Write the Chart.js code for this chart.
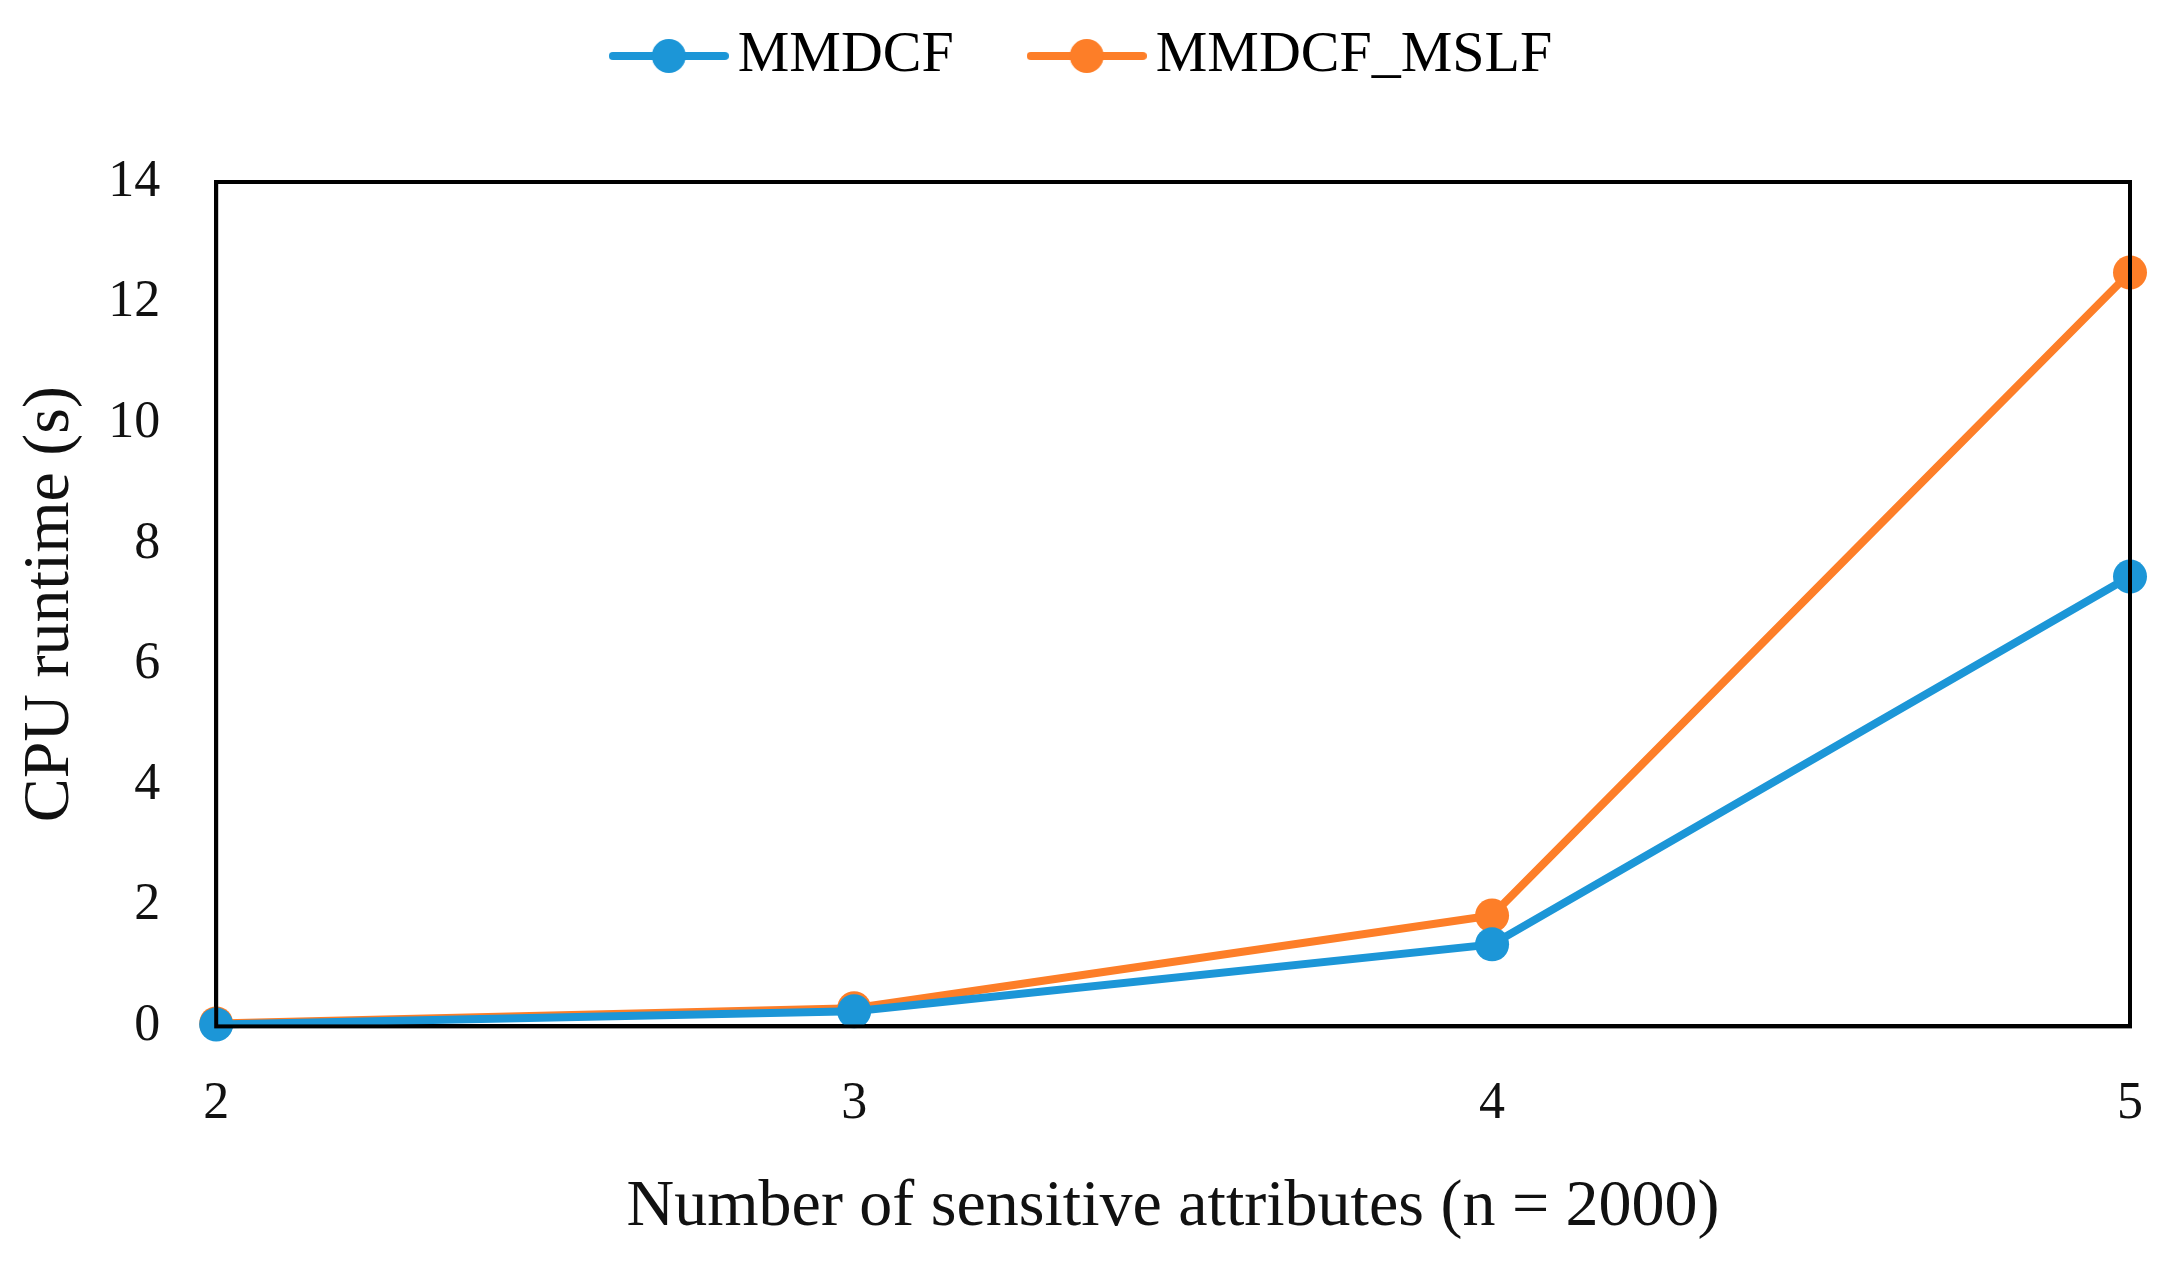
<!DOCTYPE html>
<html>
<head>
<meta charset="utf-8">
<script src="https://cdn.jsdelivr.net/npm/chart.js@4.4.1/dist/chart.umd.min.js"></script>
<style>
  html, body { margin: 0; padding: 0; background: #fff; }
  #wrap { width: 2179px; height: 1273px; }
</style>
</head>
<body>
<div id="wrap"><canvas id="myChart" width="2179" height="1273"></canvas></div>
<script>
// Dati
const attributes = [2, 3, 4, 5];
const mmdcf = [0.03, 0.25, 1.36, 7.46];
const mmdcfMslf = [0.05, 0.3, 1.84, 12.5];
const yTicks = [0, 2, 4, 6, 8, 10, 12, 14];

const BLUE = "#1c96d7";
const ORANGE = "#fd7e28";
const FONT = "'Liberation Serif', 'DejaVu Serif', serif";

// Icona legenda: linea con cerchio
const legendIcon = (color) => {
    const c = document.createElement('canvas');
    c.width = 120;
    c.height = 36;
    const ctx = c.getContext('2d');
    ctx.strokeStyle = color;
    ctx.lineWidth = 8;
    ctx.lineCap = 'round';
    ctx.beginPath();
    ctx.moveTo(4, 18);
    ctx.lineTo(116, 18);
    ctx.stroke();
    ctx.fillStyle = color;
    ctx.beginPath();
    ctx.arc(60, 18, 17, 0, Math.PI * 2);
    ctx.fill();
    return c;
};

// Spazio extra sotto la legenda e piccolo spostamento a destra
const legendGap = {
    id: 'legendGap',
    beforeInit(chart) {
        const fit = chart.legend.fit;
        chart.legend.fit = function () {
            fit.bind(chart.legend)();
            this.height += 87;
        };
    },
    afterLayout(chart) {
        chart.legend.left += 22;
        chart.legend.right += 22;
    }
};

// Cornice nera attorno all'area del grafico
const frame = {
    id: 'frame',
    afterDatasetsDraw(chart) {
        const { ctx, chartArea: a } = chart;
        ctx.save();
        ctx.strokeStyle = '#000';
        ctx.lineWidth = 4;
        ctx.strokeRect(a.left, a.top, a.right - a.left, a.bottom - a.top);
        ctx.restore();
    }
};

const makeData = (values) => attributes.map((x, i) => ({ x, y: values[i] }));

const dataset = (label, values, color) => ({
    label,
    data: makeData(values),
    borderColor: color,
    backgroundColor: color,
    borderWidth: 8,
    pointRadius: 17,
    pointHoverRadius: 17,
    pointBorderWidth: 0,
    pointStyle: 'circle',
    clip: false,
    fill: false,
    tension: 0,
});

new Chart("myChart", {
    type: "line",
    data: {
        datasets: [
            dataset("MMDCF", mmdcf, BLUE),
            dataset("MMDCF_MSLF", mmdcfMslf, ORANGE),
        ],
    },
    plugins: [legendGap, frame],
    options: {
        responsive: false,
        devicePixelRatio: 1,
        animation: false,
        layout: {
            padding: { left: 7, right: 49, top: -66, bottom: 22 }
        },
        plugins: {
            legend: {
                display: true,
                position: 'top',
                labels: {
                    usePointStyle: true,
                    pointStyleWidth: 80,
                    color: '#111',
                    font: { family: FONT, size: 58 },
                    padding: 93,
                    generateLabels: (chart) => chart.data.datasets.map((ds, i) => ({
                        text: ds.label,
                        pointStyle: legendIcon(ds.borderColor),
                        fillStyle: ds.borderColor,
                        strokeStyle: ds.borderColor,
                        lineWidth: 0,
                        hidden: false,
                        datasetIndex: i,
                    })),
                },
            },
            tooltip: { enabled: false },
        },
        scales: {
            x: {
                type: 'linear',
                min: 2,
                max: 5,
                grid: { display: false, drawTicks: false },
                border: { display: true, color: '#000', width: 4 },
                ticks: {
                    stepSize: 1,
                    padding: 47,
                    color: '#111',
                    font: { family: FONT, size: 52 },
                },
                afterBuildTicks: (axis) => {
                    axis.ticks = attributes.map(v => ({ value: v }));
                },
                afterFit: (axis) => {
                    axis.paddingRight = 0;
                },
                title: {
                    display: true,
                    text: 'Number of sensitive attributes (n = 2000)',
                    color: '#111',
                    font: { family: FONT, size: 66 },
                    padding: { top: -15, bottom: 4 },
                },
            },
            y: {
                min: 0,
                max: 14,
                grid: { display: false, drawTicks: false },
                border: { display: true, color: '#000', width: 4 },
                ticks: {
                    stepSize: 2,
                    padding: 56,
                    color: '#111',
                    font: { family: FONT, size: 52 },
                },
                afterBuildTicks: (axis) => {
                    axis.ticks = yTicks.map(v => ({ value: v }));
                },
                title: {
                    display: true,
                    text: 'CPU runtime (s)',
                    color: '#111',
                    font: { family: FONT, size: 66 },
                    padding: { top: 4, bottom: -38 },
                },
            },
        },
    },
});
</script>
</body>
</html>
